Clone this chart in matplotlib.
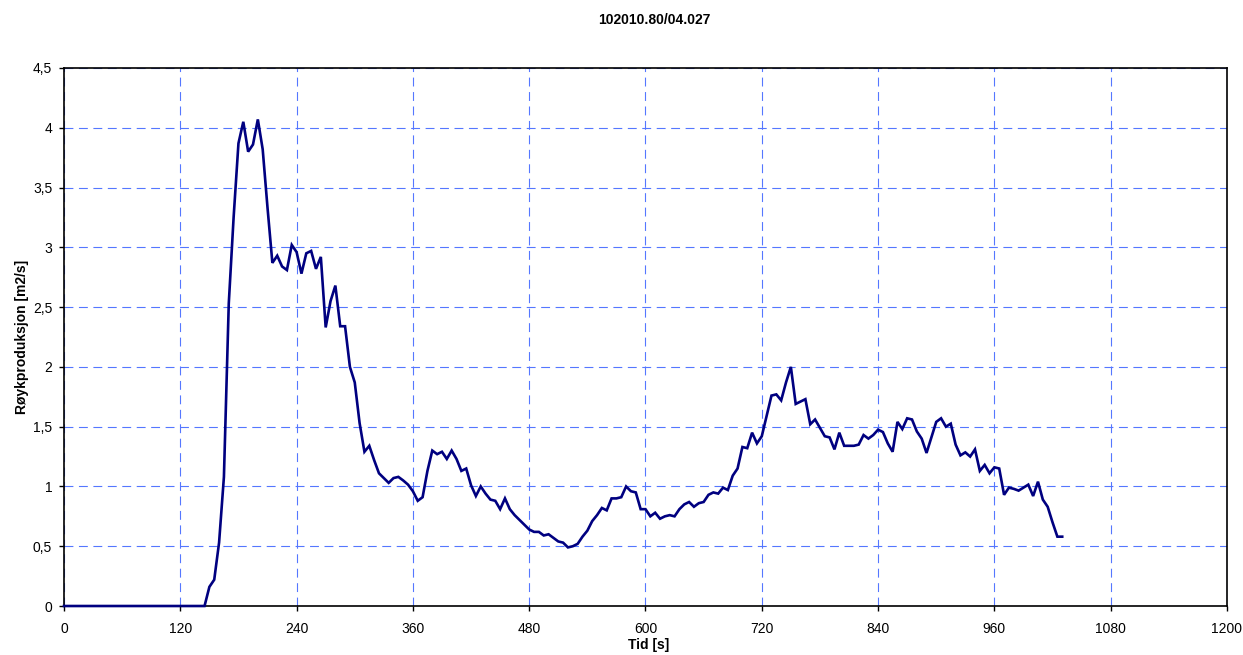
import numpy as np
import matplotlib
matplotlib.use("Agg")
import matplotlib.pyplot as plt

plt.rcParams['font.family'] = ['Liberation Sans', 'DejaVu Sans']

title = "102010.80/04.027"
x_label = "Tid [s]"
y_label = "Røykproduksjon [m2/s]"

# sampling every 5 s
time_s = np.arange(0, 1035, 5)

# smoke production rate [m2/s]
pre_ignition = [0.0, 0.0, 0.0, 0.0, 0.0, 0.0, 0.0, 0.0, 0.0, 0.0,
                0.0, 0.0, 0.0, 0.0, 0.0, 0.0, 0.0, 0.0, 0.0, 0.0,
                0.0, 0.0, 0.0, 0.0, 0.0, 0.0, 0.0, 0.0, 0.0, 0.0]
smoke_rate = pre_ignition + [
    0.16, 0.22, 0.53, 1.08, 2.53, 3.25, 3.87, 4.05, 3.80, 3.86,
    4.07, 3.82, 3.33, 2.87, 2.93, 2.84, 2.81, 3.02, 2.96, 2.78,
    2.95, 2.97, 2.82, 2.92, 2.33, 2.55, 2.68, 2.34, 2.34, 2.00,
    1.87, 1.53, 1.29, 1.34, 1.22, 1.11, 1.07, 1.03, 1.07, 1.08,
    1.05, 1.015, 0.96, 0.88, 0.91, 1.13, 1.30, 1.27, 1.29, 1.23,
    1.30, 1.23, 1.13, 1.15, 1.01, 0.92, 1.00, 0.94, 0.89, 0.88,
    0.81, 0.90, 0.81, 0.76, 0.72, 0.68, 0.64, 0.62, 0.62, 0.59,
    0.60, 0.57, 0.54, 0.53, 0.49, 0.50, 0.52, 0.58, 0.63, 0.71,
    0.76, 0.82, 0.80, 0.90, 0.90, 0.91, 1.00, 0.96, 0.95, 0.81,
    0.81, 0.75, 0.78, 0.73, 0.75, 0.76, 0.75, 0.81, 0.85, 0.87,
    0.83, 0.86, 0.87, 0.93, 0.95, 0.94, 0.99, 0.97, 1.09, 1.15,
    1.33, 1.32, 1.45, 1.36, 1.42, 1.59, 1.76, 1.77, 1.72, 1.87,
    2.00, 1.69, 1.71, 1.73, 1.52, 1.56, 1.49, 1.42, 1.41, 1.31,
    1.45, 1.34, 1.34, 1.34, 1.35, 1.43, 1.40, 1.43, 1.475, 1.455,
    1.36, 1.29, 1.54, 1.48, 1.57, 1.56, 1.46, 1.40, 1.28, 1.41,
    1.54, 1.57, 1.50, 1.525, 1.35, 1.26, 1.285, 1.25, 1.31, 1.13,
    1.18, 1.11, 1.16, 1.15, 0.93, 0.99, 0.98, 0.965, 0.99, 1.015,
    0.92, 1.04, 0.89, 0.83, 0.70, 0.58, 0.58,
]

x_ticks = [0, 120, 240, 360, 480, 600, 720, 840, 960, 1080, 1200]
y_ticks = [0, 0.5, 1, 1.5, 2, 2.5, 3, 3.5, 4, 4.5]
y_tick_labels = ["0", "0,5", "1", "1,5", "2", "2,5", "3", "3,5", "4", "4,5"]

fig = plt.figure(figsize=(12.43, 6.55), dpi=100)
ax = fig.add_axes([0.0515, 0.0748, 0.9356, 0.8214])

ax.plot(time_s, smoke_rate, color="#000080", linewidth=1.9, zorder=3,
        solid_joinstyle="miter", clip_on=False)

ax.set_xlim(0, 1200)
ax.set_ylim(0, 4.5)
ax.set_xticks(x_ticks)
ax.set_yticks(y_ticks)
ax.set_yticklabels(y_tick_labels)

ax.grid(True, color="#5577ff", linestyle=(0, (8, 5)), linewidth=0.8, zorder=1)
ax.set_axisbelow(True)

for side in ["left", "bottom", "top", "right"]:
    ax.spines[side].set_color("black")
    ax.spines[side].set_linewidth(1.2)

ax.tick_params(axis="both", direction="out", length=3.5, width=1.0,
               labelsize=10, colors="black")
ax.tick_params(axis="x", pad=8)
ax.tick_params(axis="y", pad=5)

ax.set_xlabel(x_label, fontsize=10, fontweight="bold")
ax.set_ylabel(y_label, fontsize=10, fontweight="bold")
ax.xaxis.set_label_coords(0.5031, -0.0595)
ax.yaxis.set_label_coords(-0.030, 0.5)

fig.text(654 / 1243, 1 - 20 / 655, title, ha="center", va="center",
         fontsize=10, fontweight="bold")

fig.savefig("out.png", dpi=100)
